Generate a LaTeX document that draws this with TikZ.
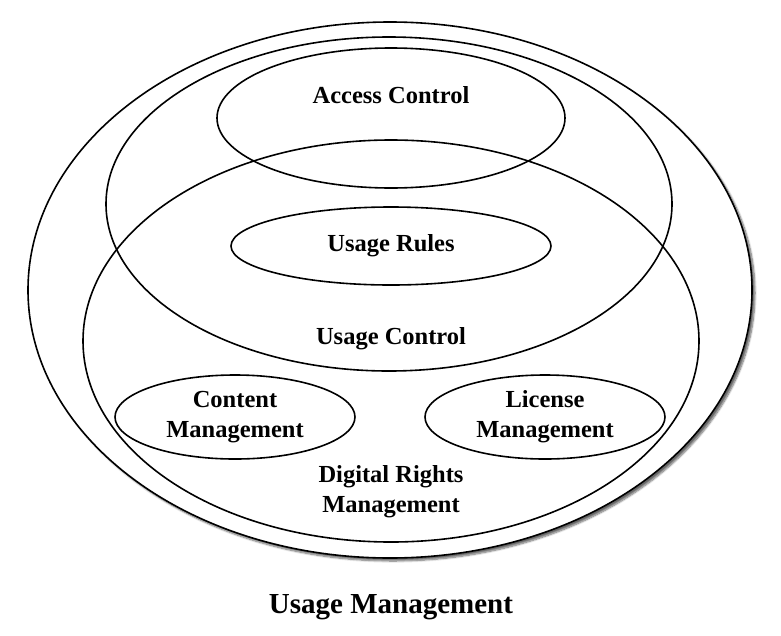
\documentclass[tikz,border=0pt]{standalone}
\usepackage{fontspec}
\setmainfont{Liberation Serif}
\usetikzlibrary{shapes.geometric,shadows.blur}

\begin{document}
\begin{tikzpicture}[x=1pt,y=-1pt,line width=1.6pt,
  area/.style={draw,ellipse,inner sep=0pt},
  lbl/.style={font=\fontsize{24.5}{30}\selectfont\bfseries,align=center}]
  \useasboundingbox (0,0) rectangle (781,635);
  % the nested areas
  \node[area,fill=white,minimum width=724pt,minimum height=536pt,
    blur shadow={shadow xshift=3pt,shadow yshift=-3pt,shadow blur steps=8,shadow opacity=60}] (UM) at (390,290) {};
  \node[area,minimum width=566pt,minimum height=334pt] (UC) at (389,204) {};
  \node[area,minimum width=616pt,minimum height=402pt] (DRM) at (391,341) {};
  \node[area,minimum width=348pt,minimum height=140pt] (AC) at (391,118) {};
  \node[area,lbl,minimum width=320pt,minimum height=78pt] (UR) at (391,246) {Usage Rules};
  \node[area,lbl,minimum width=240pt,minimum height=84pt] (CM) at (235,417) {Content\\Management};
  \node[area,lbl,minimum width=240pt,minimum height=84pt] (LM) at (545,417) {License\\Management};
  % labels of the big areas
  \node[lbl] (ACl) at (391,95) {Access Control};
  \node[lbl] (UCl) at (391,339) {Usage Control};
  \node[lbl] (DRMl) at (391,492) {Digital Rights\\Management};
  \node[lbl,font=\fontsize{29}{35}\selectfont\bfseries] (UMl) at (391,607) {Usage Management};
\end{tikzpicture}
\end{document}
